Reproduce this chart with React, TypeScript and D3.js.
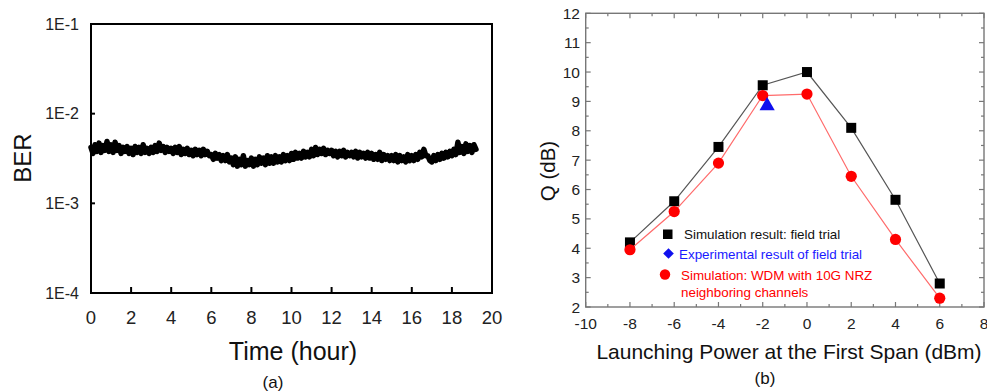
import React from "react";
import * as d3 from "d3";

// ---------- Panel (a): BER vs time ----------
const berStartHour = 0;
const berStepHour = 0.1;
const berValues = [
  0.0042,0.0036,0.0045,0.0038,0.0047,0.0037,0.0044,0.0039,0.0049,0.0038,
  0.0045,0.0037,0.0048,0.0039,0.0044,0.0036,0.0042,0.0038,0.0043,0.0036,
  0.0041,0.0035,0.0043,0.0037,0.0042,0.0036,0.0045,0.0037,0.0041,0.0036,
  0.0042,0.0037,0.0044,0.0038,0.0047,0.0039,0.0043,0.0037,0.0042,0.0038,
  0.0041,0.0036,0.0042,0.0037,0.0043,0.0035,0.0040,0.0036,0.0041,0.0035,
  0.0039,0.0034,0.0040,0.0035,0.0039,0.0034,0.0040,0.0035,0.0038,0.0034,
  0.0035,0.0031,0.0036,0.0032,0.0035,0.0030,0.0034,0.0030,0.0035,0.0029,
  0.0032,0.0027,0.0033,0.0026,0.0031,0.0027,0.0034,0.0026,0.0030,0.0027,
  0.0032,0.0026,0.0031,0.0027,0.0033,0.0028,0.0032,0.0027,0.0034,0.0028,
  0.0033,0.0028,0.0034,0.0029,0.0033,0.0029,0.0035,0.0030,0.0034,0.0030,
  0.0036,0.0031,0.0037,0.0032,0.0036,0.0032,0.0038,0.0033,0.0037,0.0033,
  0.0040,0.0034,0.0042,0.0035,0.0040,0.0036,0.0041,0.0035,0.0039,0.0036,
  0.0039,0.0034,0.0038,0.0033,0.0038,0.0034,0.0039,0.0033,0.0037,0.0034,
  0.0037,0.0033,0.0038,0.0032,0.0037,0.0033,0.0036,0.0032,0.0037,0.0032,
  0.0036,0.0031,0.0035,0.0031,0.0037,0.0030,0.0035,0.0031,0.0034,0.0030,
  0.0034,0.0030,0.0035,0.0029,0.0034,0.0030,0.0033,0.0029,0.0035,0.0030,
  0.0034,0.0030,0.0035,0.0031,0.0037,0.0033,0.0040,0.0034,0.0034,0.0030,
  0.0029,0.0034,0.0030,0.0035,0.0031,0.0036,0.0032,0.0037,0.0033,0.0038,
  0.0034,0.0040,0.0035,0.0048,0.0037,0.0043,0.0036,0.0046,0.0038,0.0044,
  0.0037,0.0045,0.0040,
];
const berYTicks = [1e-4, 1e-3, 1e-2, 1e-1];
const berYTickLabels = ["1E-4", "1E-3", "1E-2", "1E-1"];
const timeTicks = [0, 2, 4, 6, 8, 10, 12, 14, 16, 18, 20];

// ---------- Panel (b): Q vs launch power ----------
const launchPower = [-8, -6, -4, -2, 0, 2, 4, 6];
const qFieldTrial = [4.2, 5.6, 7.45, 9.55, 10.0, 8.1, 5.65, 2.8];
const qWdm = [3.95, 5.25, 6.9, 9.2, 9.25, 6.45, 4.3, 2.3];
const expPower = [-1.8];
const qExperimental = [8.85];
const powerTicks = [-10, -8, -6, -4, -2, 0, 2, 4, 6, 8];
const qTicks = [2, 3, 4, 5, 6, 7, 8, 9, 10, 11, 12];

const FONT = "'Liberation Sans', Arial, Helvetica, sans-serif";

function PanelA() {
  const L = 91, R = 492, T = 24, B = 293;
  const x = d3.scaleLinear().domain([0, 20]).range([L, R]);
  const y = d3.scaleLog().domain([1e-4, 1e-1]).range([B, T]);
  const pts: [number, number][] = berValues.map((v, i) => [berStartHour + i * berStepHour, v]);
  const line = d3.line<[number, number]>().x(d => x(d[0])).y(d => y(d[1]));
  return (
    <g>
      <path d={line(pts) || ""} fill="none" stroke="#000" strokeWidth={5.5} strokeLinejoin="round" strokeLinecap="round" />
      <rect x={L} y={T} width={R - L} height={B - T} fill="none" stroke="#000" strokeWidth={2} />
      {timeTicks.map(t => (
        <g key={t}>
          <line x1={x(t)} x2={x(t)} y1={B} y2={B - 6} stroke="#000" strokeWidth={2} />
          <text x={x(t)} y={317} textAnchor="middle" dominantBaseline="central" fontSize={18.5} fill="#222" fontFamily={FONT}>{t}</text>
        </g>
      ))}
      {berYTicks.map((v, i) => (
        <g key={v}>
          <line x1={L} x2={L + 4} y1={y(v)} y2={y(v)} stroke="#000" strokeWidth={2} />
          <text x={79} y={y(v)} textAnchor="end" dominantBaseline="central" fontSize={16} fill="#222" fontFamily={FONT}>{berYTickLabels[i]}</text>
        </g>
      ))}
      <text x={22} y={158} transform="rotate(-90 22 158)" textAnchor="middle" dominantBaseline="central" fontSize={24} fill="#111" fontFamily={FONT}>BER</text>
      <text x={293} y={351} textAnchor="middle" dominantBaseline="central" fontSize={25} fill="#111" fontFamily={FONT}>Time (hour)</text>
      <text x={273} y={382} textAnchor="middle" dominantBaseline="central" fontSize={17} fill="#111" fontFamily={FONT}>(a)</text>
    </g>
  );
}

function PanelB() {
  const L = 585.7, R = 984, T = 13.3, B = 307;
  const x = d3.scaleLinear().domain([-10, 8]).range([L, R]);
  const y = d3.scaleLinear().domain([2, 12]).range([B, T]);
  const xMinor = d3.range(-9, 8, 2);
  const yMinor = d3.range(2.5, 12, 1);
  const line = d3.line<number>().x((_, i) => x(launchPower[i])).y(d => y(d));
  const axisColor = "#777";
  const tri = d3.symbol().type(d3.symbolTriangle).size(100)();
  return (
    <g>
      <rect x={L} y={T} width={R - L} height={B - T} fill="none" stroke={axisColor} strokeWidth={1.4} />
      {powerTicks.map(t => (
        <g key={"xt" + t}>
          <line x1={x(t)} x2={x(t)} y1={B} y2={B - 5} stroke={axisColor} strokeWidth={1.2} />
          <line x1={x(t)} x2={x(t)} y1={T} y2={T + 5} stroke={axisColor} strokeWidth={1.2} />
          <text x={x(t)} y={323} textAnchor="middle" dominantBaseline="central" fontSize={15.5} fill="#222" fontFamily={FONT}>{t}</text>
        </g>
      ))}
      {xMinor.map(t => (
        <g key={"xm" + t}>
          <line x1={x(t)} x2={x(t)} y1={B} y2={B - 3} stroke={axisColor} strokeWidth={1.2} />
          <line x1={x(t)} x2={x(t)} y1={T} y2={T + 3} stroke={axisColor} strokeWidth={1.2} />
        </g>
      ))}
      {qTicks.map(t => (
        <g key={"yt" + t}>
          <line x1={L} x2={L + 5} y1={y(t)} y2={y(t)} stroke={axisColor} strokeWidth={1.2} />
          <line x1={R} x2={R - 5} y1={y(t)} y2={y(t)} stroke={axisColor} strokeWidth={1.2} />
          <text x={580} y={y(t)} textAnchor="end" dominantBaseline="central" fontSize={15.5} fill="#222" fontFamily={FONT}>{t}</text>
        </g>
      ))}
      {yMinor.map(t => (
        <g key={"ym" + t}>
          <line x1={L} x2={L + 3} y1={y(t)} y2={y(t)} stroke={axisColor} strokeWidth={1.2} />
          <line x1={R} x2={R - 3} y1={y(t)} y2={y(t)} stroke={axisColor} strokeWidth={1.2} />
        </g>
      ))}

      <path d={line(qFieldTrial) || ""} fill="none" stroke="#555" strokeWidth={1.2} />
      {qFieldTrial.map((q, i) => (
        <rect key={"sq" + i} x={x(launchPower[i]) - 5} y={y(q) - 5} width={10} height={10} fill="#000" />
      ))}
      <path d={line(qWdm) || ""} fill="none" stroke="#ff6b6b" strokeWidth={1.2} />
      {qWdm.map((q, i) => (
        <circle key={"c" + i} cx={x(launchPower[i])} cy={y(q)} r={5.6} fill="#ff0000" />
      ))}
      {qExperimental.map((q, i) => (
        <path key={"tr" + i} d={tri || ""} transform={`translate(${x(expPower[i])},${y(q)})`} fill="#1010ee" />
      ))}

      {/* legend */}
      <rect x={663} y={229.5} width={9.5} height={9.5} fill="#000" />
      <text x={684} y={234} dominantBaseline="central" fontSize={13.4} fill="#111" fontFamily={FONT}>Simulation result: field trial</text>
      <rect x={664.8} y={249.8} width={7.5} height={7.5} fill="#1010ee" transform="rotate(45 668.5 253.5)" />
      <text x={679} y={254} dominantBaseline="central" fontSize={13.4} fill="#1a1aff" fontFamily={FONT}>Experimental result of field trial</text>
      <circle cx={665} cy={274.5} r={5.2} fill="#ff0000" />
      <text x={681} y={275} dominantBaseline="central" fontSize={13.4} fill="#ff0000" fontFamily={FONT}>Simulation: WDM with 10G NRZ</text>
      <text x={681} y={292} dominantBaseline="central" fontSize={13.4} fill="#ff0000" fontFamily={FONT}>neighboring channels</text>

      <text x={547} y={171} transform="rotate(-90 547 171)" textAnchor="middle" dominantBaseline="central" fontSize={20.5} fill="#111" fontFamily={FONT}>Q (dB)</text>
      <text x={789} y={351} textAnchor="middle" dominantBaseline="central" fontSize={21} fill="#111" fontFamily={FONT}>Launching Power at the First Span (dBm)</text>
      <text x={765} y={378} textAnchor="middle" dominantBaseline="central" fontSize={17} fill="#111" fontFamily={FONT}>(b)</text>
    </g>
  );
}

export default function App() {
  return (
    <svg width={987} height={392} style={{ position: "absolute", left: 0, top: 0, background: "#fff" }}>
      <rect x={0} y={0} width={987} height={392} fill="#fff" />
      <PanelA />
      <PanelB />
    </svg>
  );
}
